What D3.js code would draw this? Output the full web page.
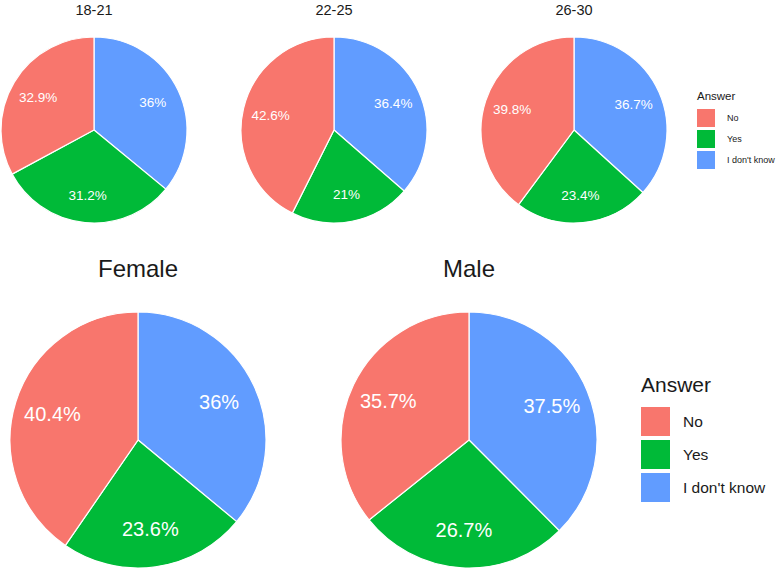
<!DOCTYPE html>
<html><head><meta charset="utf-8">
<script src="https://d3js.org/d3.v7.min.js"></script>
<style>body{margin:0;background:#fff}svg{display:block;font-family:"Liberation Sans",Arial,sans-serif}</style>
</head><body>
<script>
const answers = ["I don't know", "Yes", "No"];        // clockwise order from 12 o'clock
const legendOrder = ["No", "Yes", "I don't know"];
const colors = {"No": "#F8766D", "Yes": "#00BA38", "I don't know": "#619CFF"};

const ageGroups = ["18-21", "22-25", "26-30"];
const ageNo  = [32.9, 42.6, 39.8];
const ageYes = [31.2, 21, 23.4];
const ageIdk = [36, 36.4, 36.7];

const genders = ["Female", "Male"];
const genNo  = [40.4, 35.7];
const genYes = [23.6, 26.7];
const genIdk = [36, 37.5];

const W = 777, H = 568;
const svg = d3.select("body").append("svg").attr("width", W).attr("height", H);

function drawPie(cx, cy, r, title, no, yes, idk, titleY, titleSize, labelSize) {
  const vals = {"No": no, "Yes": yes, "I don't know": idk};
  const data = answers.map(a => ({key: a, value: vals[a]}));
  const pie = d3.pie().sort(null).value(d => d.value);
  const arc = d3.arc().innerRadius(0).outerRadius(r);
  const lab = d3.arc().innerRadius(r * 0.7).outerRadius(r * 0.7);
  const g = svg.append("g").attr("transform", `translate(${cx},${cy})`);
  const arcs = pie(data);
  g.selectAll("path").data(arcs).join("path")
    .attr("d", arc).attr("fill", d => colors[d.data.key])
    .attr("stroke", "#fff").attr("stroke-width", 1.2);
  g.selectAll("text").data(arcs).join("text")
    .attr("transform", d => `translate(${lab.centroid(d)})`)
    .attr("text-anchor", "middle").attr("dy", "0.36em")
    .attr("fill", "#fff").attr("font-size", labelSize)
    .text(d => d.data.value + "%");
  svg.append("text").attr("x", cx).attr("y", titleY).attr("text-anchor", "middle")
    .attr("font-size", titleSize).attr("fill", "#1a1a1a").text(title);
}

ageGroups.forEach((t, i) => {
  const x = d3.scalePoint().domain(ageGroups).range([94, 574])(t);
  drawPie(x, 130, 93, t, ageNo[i], ageYes[i], ageIdk[i], 15, 14.5, 13.5);
});
genders.forEach((t, i) => {
  const x = d3.scalePoint().domain(genders).range([138, 469])(t);
  drawPie(x, 440, 128, t, genNo[i], genYes[i], genIdk[i], 277, 24, 20);
});

function legend(x, y, titleSize, box, gap, labelSize, labelDx, boxTop) {
  const g = svg.append("g").attr("transform", `translate(${x},${y})`);
  g.append("text").attr("x", 0).attr("y", 0).attr("font-size", titleSize).attr("fill", "#1a1a1a").text("Answer");
  legendOrder.forEach((k, i) => {
    const yy = boxTop + i * (box + gap);
    g.append("rect").attr("x", 0).attr("y", yy).attr("width", box).attr("height", box)
      .attr("fill", colors[k]);
    g.append("text").attr("x", labelDx).attr("y", yy + box / 2).attr("dy", "0.36em")
      .attr("font-size", labelSize).attr("fill", "#1a1a1a").text(k);
  });
}
legend(697, 100, 11.5, 18, 3, 9, 30, 9);
legend(641, 392, 21, 29, 4, 15.5, 42, 15);
</script>
</body></html>
